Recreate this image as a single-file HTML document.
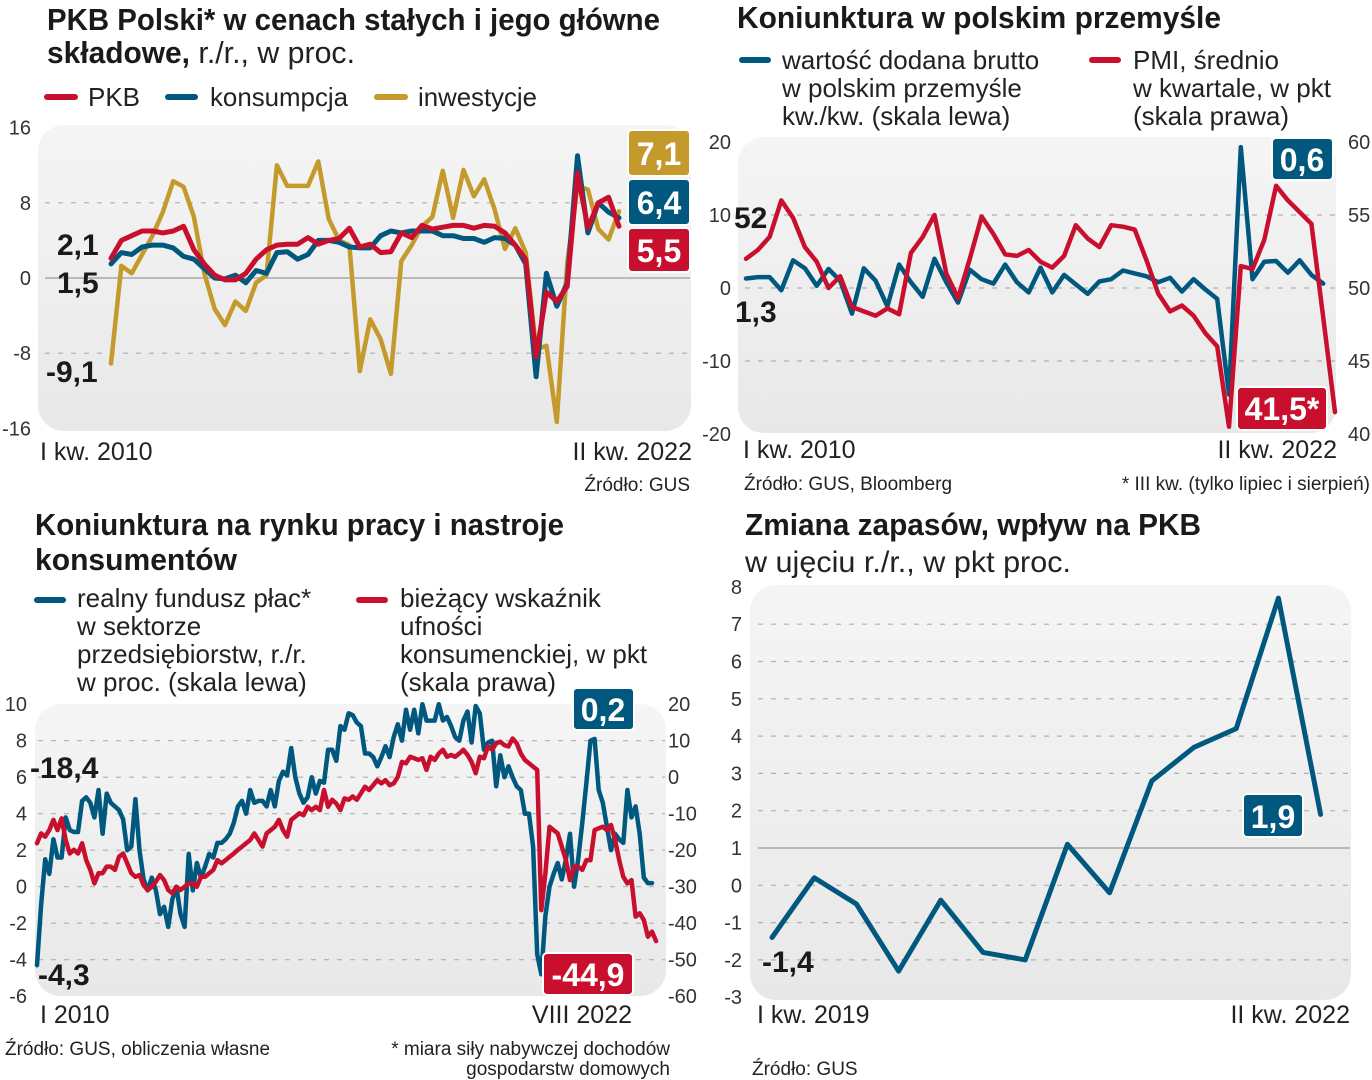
<!DOCTYPE html>
<html><head><meta charset="utf-8"><style>
html,body{margin:0;padding:0;background:#fff;}
svg{display:block;font-family:"Liberation Sans Narrow","Liberation Sans",sans-serif;}
.t{font-weight:bold;fill:#1a1a1a;}
.l{fill:#222;}
.ax{fill:#333;font-size:20px;}
.big{font-weight:bold;fill:#1a1a1a;font-size:30px;}
.bx{font-weight:bold;fill:#fff;font-size:32px;text-anchor:middle;}
</style></head><body>
<svg id="chart" width="1372" height="1080" viewBox="0 0 1372 1080">
<defs>
<linearGradient id="bg" x1="0" y1="0" x2="0" y2="1"><stop offset="0" stop-color="#f5f5f5"/><stop offset="1" stop-color="#e8e8e8"/></linearGradient>
</defs>

<!-- PANEL 1 -->
<g>
<text class="t" x="47" y="30" font-size="31" textLength="613" lengthAdjust="spacingAndGlyphs">PKB Polski* w cenach stałych i jego główne</text>
<text x="47" y="63" font-size="31"><tspan class="t" textLength="143" lengthAdjust="spacingAndGlyphs">składowe,</tspan><tspan class="l" textLength="165" lengthAdjust="spacingAndGlyphs"> r./r., w proc.</tspan></text>
<g>
<line x1="47" y1="97" x2="75" y2="97" stroke="#c8102e" stroke-width="6" stroke-linecap="round"/>
<text class="l" x="88" y="106" font-size="26">PKB</text>
<line x1="168" y1="97" x2="195" y2="97" stroke="#00587f" stroke-width="6" stroke-linecap="round"/>
<text class="l" x="210" y="106" font-size="26" textLength="138" lengthAdjust="spacingAndGlyphs">konsumpcja</text>
<line x1="377" y1="97" x2="405" y2="97" stroke="#c49a2c" stroke-width="6" stroke-linecap="round"/>
<text class="l" x="418" y="106" font-size="26" textLength="119" lengthAdjust="spacingAndGlyphs">inwestycje</text>
</g>
<rect x="38" y="125" width="653" height="306" rx="26" fill="url(#bg)"/>
<g id="p1grid"></g>
<g id="p1lines"></g>
<text class="big" x="57" y="255">2,1</text>
<text class="big" x="57" y="293">1,5</text>
<text class="big" x="46" y="382">-9,1</text>
<rect x="628" y="130" width="62" height="46" rx="4" fill="#c49a2c" stroke="#fff" stroke-width="2"/>
<text class="bx" x="659" y="165">7,1</text>
<rect x="628" y="179" width="62" height="46" rx="4" fill="#00587f" stroke="#fff" stroke-width="2"/>
<text class="bx" x="659" y="214">6,4</text>
<rect x="628" y="228" width="62" height="44" rx="4" fill="#c8102e" stroke="#fff" stroke-width="2"/>
<text class="bx" x="659" y="262">5,5</text>
<text class="l" x="40" y="460" font-size="25">I kw. 2010</text>
<text class="l" x="692" y="460" font-size="25" text-anchor="end">II kw. 2022</text>
<text class="l" x="690" y="491" font-size="19" text-anchor="end">Źródło: GUS</text>
</g>

<!-- PANEL 2 -->
<g>
<text class="t" x="737" y="28" font-size="31" textLength="484" lengthAdjust="spacingAndGlyphs">Koniunktura w polskim przemyśle</text>
<line x1="742" y1="60" x2="768" y2="60" stroke="#00587f" stroke-width="6" stroke-linecap="round"/>
<text class="l" font-size="26"><tspan x="782" y="69">wartość dodana brutto</tspan><tspan x="782" y="97">w polskim przemyśle</tspan><tspan x="782" y="125">kw./kw. (skala lewa)</tspan></text>
<line x1="1092" y1="60" x2="1118" y2="60" stroke="#c8102e" stroke-width="6" stroke-linecap="round"/>
<text class="l" font-size="26"><tspan x="1133" y="69">PMI, średnio</tspan><tspan x="1133" y="97">w kwartale, w pkt</tspan><tspan x="1133" y="125">(skala prawa)</tspan></text>
<rect x="738" y="137" width="598" height="296" rx="26" fill="url(#bg)"/>
<g id="p2grid"></g>
<g id="p2lines"></g>
<text class="big" x="734" y="228">52</text>
<text class="big" x="735" y="322">1,3</text>
<rect x="1272" y="138" width="61" height="42" rx="4" fill="#00587f" stroke="#fff" stroke-width="2"/>
<text class="bx" x="1302" y="171">0,6</text>
<rect x="1237" y="387" width="90" height="43" rx="4" fill="#c8102e" stroke="#fff" stroke-width="2"/>
<text class="bx" x="1282" y="420">41,5*</text>
<text class="l" x="743" y="458" font-size="25">I kw. 2010</text>
<text class="l" x="1337" y="458" font-size="25" text-anchor="end">II kw. 2022</text>
<text class="l" x="744" y="490" font-size="19">Źródło: GUS, Bloomberg</text>
<text class="l" x="1370" y="490" font-size="19" text-anchor="end">* III kw. (tylko lipiec i sierpień)</text>
</g>

<!-- PANEL 3 -->
<g>
<text class="t" x="35" y="535" font-size="31" textLength="529" lengthAdjust="spacingAndGlyphs">Koniunktura na rynku pracy i nastroje</text>
<text class="t" x="35" y="570" font-size="31" textLength="202" lengthAdjust="spacingAndGlyphs">konsumentów</text>
<line x1="37" y1="600" x2="63" y2="600" stroke="#00587f" stroke-width="6" stroke-linecap="round"/>
<text class="l" font-size="26"><tspan x="77" y="607">realny fundusz płac*</tspan><tspan x="77" y="635">w sektorze</tspan><tspan x="77" y="663">przedsiębiorstw, r./r.</tspan><tspan x="77" y="691">w proc. (skala lewa)</tspan></text>
<line x1="359" y1="600" x2="385" y2="600" stroke="#c8102e" stroke-width="6" stroke-linecap="round"/>
<text class="l" font-size="26"><tspan x="400" y="607">bieżący wskaźnik</tspan><tspan x="400" y="635">ufności</tspan><tspan x="400" y="663">konsumenckiej, w pkt</tspan><tspan x="400" y="691">(skala prawa)</tspan></text>
<rect x="35" y="704" width="631" height="292" rx="26" fill="url(#bg)"/>
<g id="p3grid"></g>
<g id="p3lines"></g>
<text class="big" x="30" y="778">-18,4</text>
<text class="big" x="38" y="985">-4,3</text>
<rect x="573" y="688" width="61" height="42" rx="4" fill="#00587f" stroke="#fff" stroke-width="2"/>
<text class="bx" x="603" y="721">0,2</text>
<rect x="543" y="953" width="90" height="42" rx="4" fill="#c8102e" stroke="#fff" stroke-width="2"/>
<text class="bx" x="588" y="986">-44,9</text>
<text class="l" x="40" y="1023" font-size="25">I 2010</text>
<text class="l" x="632" y="1023" font-size="25" text-anchor="end">VIII 2022</text>
<text class="l" x="5" y="1055" font-size="19">Źródło: GUS, obliczenia własne</text>
<text class="l" x="670" y="1055" font-size="19" text-anchor="end">* miara siły nabywczej dochodów</text>
<text class="l" x="670" y="1075" font-size="19" text-anchor="end">gospodarstw domowych</text>
</g>

<!-- PANEL 4 -->
<g>
<text class="t" x="745" y="535" font-size="31" textLength="456" lengthAdjust="spacingAndGlyphs">Zmiana zapasów, wpływ na PKB</text>
<text class="l" x="745" y="572" font-size="30" textLength="326" lengthAdjust="spacingAndGlyphs">w ujęciu r./r., w pkt proc.</text>
<rect x="750" y="585" width="601" height="415" rx="26" fill="url(#bg)"/>
<g id="p4grid"></g>
<g id="p4lines"></g>
<text class="big" x="762" y="972">-1,4</text>
<rect x="1243" y="794" width="60" height="43" rx="4" fill="#00587f" stroke="#fff" stroke-width="2"/>
<text class="bx" x="1273" y="828">1,9</text>
<text class="l" x="757" y="1023" font-size="25">I kw. 2019</text>
<text class="l" x="1350" y="1023" font-size="25" text-anchor="end">II kw. 2022</text>
<text class="l" x="752" y="1075" font-size="19">Źródło: GUS</text>
</g>
</svg>
<script>
const NS = "http://www.w3.org/2000/svg";
// Panel 1 data (quarterly y/y, 2010Q1-2022Q2)
const gdpValues = [2.1,4.0,4.5,5.0,5.0,4.8,5.0,5.5,3.0,1.5,0.3,-0.2,-0.2,0.5,2.0,3.0,3.5,3.6,3.6,4.3,3.6,4.0,4.2,5.3,3.3,3.6,2.7,2.8,4.8,4.3,5.6,5.2,5.4,5.6,5.6,5.3,5.6,5.5,4.8,3.5,2.0,-8.4,-1.5,-2.5,-0.9,11.2,5.3,8.0,8.6,5.5];
const consumptionValues = [1.5,2.7,2.5,3.3,3.5,3.5,3.2,2.3,2.0,1.0,0,-0.1,0.3,-0.5,0.8,0.5,2.7,2.8,2.0,2.5,4.0,4.0,3.8,3.3,3.2,3.2,4.5,5.0,4.8,5.0,5.0,5.0,4.5,4.5,4.2,4.2,3.8,4.3,4.2,3.5,1.5,-10.5,0.5,-3.0,-0.5,13.0,4.8,8.0,7.0,6.4];
const investmentValues = [-9.1,1.3,0.5,2.5,4.5,7.0,10.3,9.7,6.5,0.5,-3.3,-5.0,-2.5,-3.5,-0.5,0.3,12.0,9.8,9.8,9.8,12.4,6.3,4.0,3.5,-9.9,-4.4,-6.5,-10.2,1.8,3.5,5.5,6.5,11.4,6.4,11.5,8.7,10.5,7.3,3.1,5.3,2.7,-7.6,-7.2,-15.3,1.6,9.8,9.4,5.2,4.1,7.1];
const p1Ticks = [16,8,0,-8,-16];
// Panel 2 data
const gvaValues = [1.3,1.5,1.5,-0.3,3.8,2.7,0.3,2.6,1.0,-3.5,2.7,1.0,-2.5,3.2,0.8,-1.2,4.0,0.8,-2.0,2.5,1.2,0.6,3.2,0.8,-0.6,2.8,-0.6,1.8,0.5,-0.8,0.9,1.2,2.4,2.0,1.6,0.8,1.4,-0.5,1.2,-0.2,-1.5,-14.6,19.3,1.2,3.6,3.7,2.1,3.8,1.8,0.6];
const pmiValues = [52.0,52.6,53.5,56.0,54.8,52.8,51.8,50.0,50.8,48.7,48.4,48.1,48.6,48.2,52.4,53.5,55.0,51.0,49.3,52.0,54.9,53.7,52.3,52.2,52.6,51.8,51.4,52.2,54.3,53.4,52.8,54.3,54.2,54.0,51.9,49.6,48.4,48.8,48.1,46.9,46.0,40.5,51.5,51.3,53.3,57.0,56.0,55.2,54.4,48.0,41.5];
const p2LeftTicks = [20,10,0,-10,-20];
const p2RightTicks = [60,55,50,45,40];
// Panel 3 data (monthly, I 2010 - VIII 2022)
const wagesValues = [-4.3,-1.0,1.5,0.7,2.6,1.6,1.6,3.8,3.1,3.0,3.0,4.7,4.9,4.6,3.8,5.3,2.9,5.1,4.6,4.4,4.2,3.7,2.0,2.2,4.8,2.0,0.4,-0.2,0.5,-0.2,-1.5,-1.1,-2.2,-0.7,0,-1.5,-2.2,1.8,-0.2,1.3,0.5,1.1,1.8,1.6,2.4,2.4,2.6,2.9,3.5,4.4,4.7,4.0,5.3,4.6,4.7,4.7,4.4,5.3,4.4,5.8,6.3,6.1,7.6,6.0,5.1,4.6,4.9,6.0,5.1,5.8,5.7,7.5,7.5,6.9,8.8,8.6,9.5,9.4,9.0,8.8,7.3,7.3,7.1,6.6,7.1,7.7,7.1,8.2,8.9,8.0,9.7,8.6,9.7,8.4,10.0,9.1,9.1,9.1,10.0,9.1,9.3,8.8,8.2,8.0,9.1,9.6,7.9,9.9,9.5,7.5,7.9,8.0,5.5,7.2,6.0,6.6,6.0,5.5,5.3,4.0,4.0,2.2,-3.7,-4.8,-1.6,0,0.7,1.3,0.4,1.5,2.9,0,1.5,3.5,5.7,8.0,8.1,5.3,4.6,3.3,2.0,2.9,2.6,2.4,5.3,3.8,4.4,2.9,0.5,0.2,0.2];
const confidenceValues = [-18.1,-15.4,-16.3,-14.5,-11.7,-14.5,-11.3,-17.2,-20.9,-19.9,-20.9,-18.1,-22.7,-25.4,-29.1,-26.3,-26.3,-24.5,-24.5,-25.4,-21.8,-20.9,-23.6,-26.3,-27.3,-26.8,-29.6,-30.9,-30.0,-28.6,-26.8,-28.2,-30.9,-31.8,-30.0,-30.9,-30.0,-29.1,-29.1,-30.0,-27.3,-27.3,-26.3,-25.4,-22.7,-23.6,-22.7,-21.8,-20.9,-19.9,-19.0,-18.1,-17.2,-15.4,-17.2,-19.0,-15.4,-14.5,-13.6,-11.7,-14.5,-16.3,-11.7,-10.8,-9.9,-10.4,-8.1,-9.0,-8.1,-9.0,-3.5,-8.1,-6.2,-7.2,-9.0,-5.8,-6.2,-5.3,-6.2,-4.4,-2.6,-3.5,-2.2,-0.8,-1.7,-0.8,-2.2,-1.7,0.1,4.2,3.8,5.6,5.2,4.7,5.2,2.0,5.6,4.7,6.5,7.5,5.6,6.1,5.6,6.5,7.5,6.1,4.2,1.1,5.6,5.2,8.4,7.5,9.3,9.7,8.8,8.4,10.6,9.3,6.5,4.7,3.8,2.9,2.0,-36.4,-26.3,-13.6,-14.5,-15.4,-19.0,-22.7,-28.2,-24.5,-24.5,-25.4,-22.7,-22.7,-14.5,-14.0,-13.6,-14.5,-13.1,-17.2,-22.7,-27.3,-29.1,-28.2,-38.2,-37.3,-39.1,-43.7,-42.3,-44.9];
const p3LeftTicks = [10,8,6,4,2,0,-2,-4,-6];
const p3RightTicks = [20,10,0,-10,-20,-30,-40,-50,-60];
// Panel 4 data (2019Q1-2022Q2)
const inventoryValues = [-1.4,0.2,-0.5,-2.3,-0.4,-1.8,-2.0,1.1,-0.2,2.8,3.7,4.2,7.7,1.9];
const p4Ticks = [8,7,6,5,4,3,2,1,0,-1,-2,-3];

// scales
const x1 = i => 111 + i * (508 / 49);
const y1 = v => 278 - v * 9.4;
const x2 = i => 746 + i * 11.78;
const y2L = v => 288 - v * 7.3;
const y2R = r => 288 - (r - 50) * 14.6;
const x3 = i => 37 + i * 4.1;
const y3L = v => 886.7 - v * 18.25;
const y3R = r => 777.2 - r * 3.65;
const x4 = i => 772 + i * 42.2;
const y4 = v => 848 - (v - 1) * 37.3;

function mk(tag, attrs, parent) {
  const e = document.createElementNS(NS, tag);
  for (const k in attrs) e.setAttribute(k, attrs[k]);
  parent.appendChild(e);
  return e;
}
function drawLine(parentId, vals, xf, yf, color, w, name) {
  const g = document.getElementById(parentId);
  const d = vals.map((v, i) => (i ? "L" : "M") + xf(i).toFixed(1) + " " + yf(v).toFixed(1)).join("");
  const p = mk("path", {d: d, fill: "none", stroke: color, "stroke-width": w, "stroke-linejoin": "round", "stroke-linecap": "round"}, g);
  
  
}
function grid(parentId, ticks, yf, x1p, x2p, solidVal, name) {
  const g = document.getElementById(parentId);
  ticks.forEach(t => {
    const y = yf(t);
    if (solidVal !== null && t === solidVal) {
      const l = mk("line", {x1: x1p, x2: x2p, y1: y, y2: y, stroke: "#a8a8a8", "stroke-width": 1.5}, g);
      
      
    } else {
      const l = mk("line", {x1: x1p, x2: x2p, y1: y, y2: y, stroke: "#b0b0b0", "stroke-width": 1.2, "stroke-dasharray": "5 8"}, g);
      
      
    }
  });
}
function labels(parentId, ticks, yf, x, anchor, name) {
  const g = document.getElementById(parentId);
  ticks.forEach(t => {
    const tx = mk("text", {x: x, y: yf(t) + 7, "text-anchor": anchor, class: "ax"}, g);
    tx.textContent = String(t);
    
    
  });
}

grid("p1grid", [8, 0, -8], y1, 45, 690, 0, "gdp");
labels("p1grid", p1Ticks, y1, 31, "end", "gdp-y-tick");
drawLine("p1lines", investmentValues, x1, y1, "#c49a2c", 4.5, "investment-line");
drawLine("p1lines", consumptionValues, x1, y1, "#00587f", 5, "consumption-line");
drawLine("p1lines", gdpValues, x1, y1, "#c8102e", 5, "gdp-line");

grid("p2grid", [10, 0, -10], y2L, 745, 1335, null, "industry");
labels("p2grid", p2LeftTicks, y2L, 731, "end", "industry-left-tick");
labels("p2grid", p2RightTicks, y2R, 1348, "start", "industry-right-tick");
drawLine("p2lines", gvaValues, x2, y2L, "#00587f", 4.5, "gva-line");
drawLine("p2lines", pmiValues, x2, y2R, "#c8102e", 4.5, "pmi-line");

grid("p3grid", [8, 6, 4, 2, 0, -2, -4], y3L, 38, 665, null, "labour");
labels("p3grid", p3LeftTicks, y3L, 27, "end", "labour-left-tick");
labels("p3grid", p3RightTicks, y3R, 668, "start", "labour-right-tick");
drawLine("p3lines", wagesValues, x3, y3L, "#00587f", 4.5, "wages-line");
drawLine("p3lines", confidenceValues, x3, y3R, "#c8102e", 4.5, "confidence-line");

grid("p4grid", [7, 6, 5, 4, 3, 2, 1, 0, -1, -2], y4, 758, 1350, 1, "inventory");
labels("p4grid", p4Ticks, y4, 742, "end", "inventory-y-tick");
drawLine("p4lines", inventoryValues, x4, y4, "#00587f", 5, "inventory-line");
</script>
</body></html>
